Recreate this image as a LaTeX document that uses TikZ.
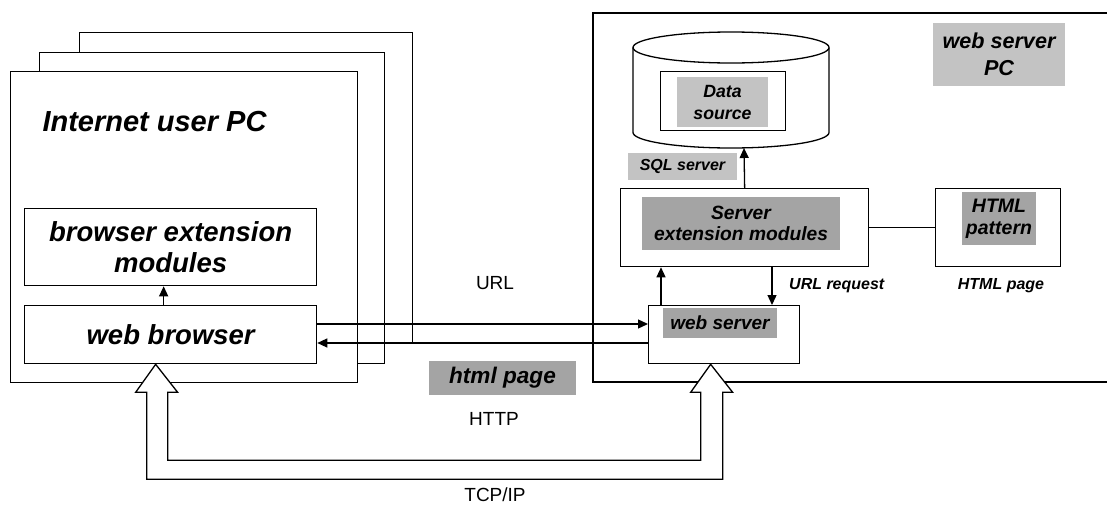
\documentclass[tikz,border=0pt]{standalone}
\usepackage{fontspec}
\setmainfont{Liberation Sans}
\usetikzlibrary{arrows.meta}
\definecolor{lightgrey}{HTML}{C3C3C3}
\definecolor{darkgrey}{HTML}{A4A4A4}
\newcommand{\fsz}[2]{\fontsize{#1}{#2}\selectfont}
\tikzset{
  box/.style={draw, line width=1.3pt, fill=white, inner sep=0pt, anchor=north west},
  txt/.style={inner sep=0pt, align=center, font=\bfseries\itshape},
  lbl/.style={txt, fill=lightgrey},
  darklbl/.style={txt, fill=darkgrey},
  plain/.style={inner sep=0pt},
  arr/.style={-{Triangle[length=10pt, width=9pt]}, line width=1.3pt},
  hollow/.style={draw, line width=1.3pt, fill=white, line join=miter},
}

\begin{document}
\begin{tikzpicture}[x=1pt, y=-1pt]
\useasboundingbox (0,0) rectangle (1107,506);

% internet user PCs, stacked
\node[box, minimum width=333, minimum height=311] (pcback) at (79,32) {};
\node[box, minimum width=345, minimum height=311] (pcmid) at (39,52) {};
\node[box, minimum width=347, minimum height=311] (pc) at (10,71) {};
\node[txt, font=\bfseries\itshape\fsz{29}{33}] (pctitle) at (154.5,122) {Internet user PC};

\node[box, minimum width=292, minimum height=77, align=center,
  font=\bfseries\itshape\fsz{27.5}{31}] (bext) at (24,208) {browser extension\\modules};
\node[box, minimum width=292, minimum height=58,
  font=\bfseries\itshape\fsz{27.5}{31}] (wb) at (24,305) {web browser};
\draw[arr] ([xshift=-7]wb.north) -- ([xshift=-7]wb.north |- bext.south);

% web server PC
\draw[line width=1.3pt] (1107,13) -- (593,13) -- (593,382) -- (1107,382);
\node[lbl, minimum width=132, minimum height=63, font=\bfseries\itshape\fsz{21.6}{27}] (spc) at (999,54.5) {web server\\PC};

% database
\draw[line width=1.3pt, fill=white] (633,47.5) -- (633,132.5)
  arc[start angle=180, end angle=360, x radius=98pt, y radius=15.5pt] -- (829,47.5);
\draw[line width=1.3pt, fill=white] (731,47.5) ellipse[x radius=98pt, y radius=15.5pt];
\coordinate (dbbot) at (744,148);
\node[box, minimum width=125, minimum height=59] (dsbox) at (660,71) {};
\node[lbl, minimum width=91, minimum height=50, font=\bfseries\itshape\fsz{17.7}{22}] (ds) at (722.5,102) {Data\\source};
\node[lbl, minimum width=109, minimum height=27, font=\bfseries\itshape\fsz{16}{18}] (sql) at (682.5,166.5) {SQL server};

% server modules
\node[box, minimum width=248, minimum height=78] (se) at (620,188) {};
\node[darklbl, minimum width=198, minimum height=53, font=\bfseries\itshape\fsz{19.2}{21}] (setext) at (741,223.5) {Server\\extension modules};
\node[box, minimum width=125, minimum height=78] (hp) at (935,188) {};
\node[darklbl, minimum width=74, minimum height=53, font=\bfseries\itshape\fsz{19.5}{22}] (hptext) at (999,218.5) {HTML\\pattern};
\draw[line width=1.3pt] (se.east) -- (hp.west);
\draw[arr] (se.north) -- (dbbot);

\node[box, minimum width=151, minimum height=58] (ws) at (648,305) {};
\node[darklbl, minimum width=114, minimum height=30, font=\bfseries\itshape\fsz{19}{21}] (wstext) at (720,323) {web server};
\draw[arr] ([xshift=13]ws.north west) -- ([xshift=13]ws.north west |- se.south);
\draw[arr] ([xshift=152]se.south west) -- ([xshift=152]se.south west |- ws.north);
\node[txt, anchor=west, font=\bfseries\itshape\fsz{16}{18}] (urlreq) at (789,286) {URL request};
\node[txt, font=\bfseries\itshape\fsz{16}{18}] (hpage) at (1001,286) {HTML page};

% browser <-> server
\draw[arr] ([yshift=-19]wb.north east) -- ([yshift=-19]wb.north east -| ws.west);
\draw[arr] ([yshift=-38]ws.north west) -- ([yshift=-38]ws.north west -| wb.east);
\node[plain, font=\fsz{19}{21}] (url) at (495,283) {URL};
\node[darklbl, minimum width=147, minimum height=34, font=\bfseries\itshape\fsz{22.6}{25}] (html) at (502.5,378) {html page};
\node[plain, font=\fsz{19}{21}] (http) at (494,419) {HTTP};

% TCP/IP channel
\coordinate (tl) at ([xshift=-15]wb.south);
\coordinate (tr) at ([xshift=-13.5]ws.south);
\draw[hollow] (tl) -- ++(22,28) -- ++(-10,0) -- ++(0,68) -| ([xshift=-10,yshift=-28]tr)
  -- ++(-10,0) -- (tr) -- ++(22,28) -- ++(-10,0) |- ([xshift=-9,yshift=-115]tl)
  -- ++(0,-87) -- ++(-11,0) -- cycle;
\node[plain, font=\fsz{19}{21}] (tcp) at (495,495) {TCP/IP};

\end{tikzpicture}
\end{document}
